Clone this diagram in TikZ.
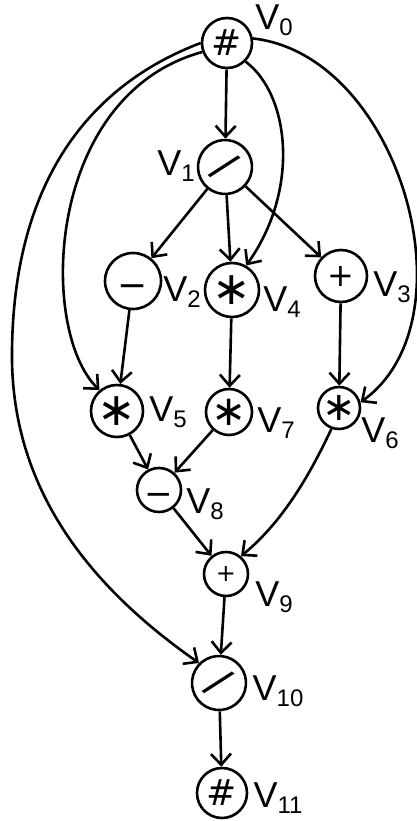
\documentclass[tikz,border=0pt]{standalone}
\usepackage{fontspec}
\setmainfont{Liberation Sans}
\newfontfamily\symf{DejaVu Sans}
\usetikzlibrary{arrows.meta}
\newcommand{\opsym}[2]{{\symf\fontsize{#1}{#1}\selectfont #2}}
\newcommand{\minsym}[1]{{\symf\fontsize{#1}{#1}\selectfont\smash{\raisebox{-0.45em}{−}}}}
\newcommand{\vlab}[1]{\fontsize{36}{36}\selectfont V\raisebox{-0.3ex}{\fontsize{24}{24}\selectfont #1}}
\tikzset{
  op/.style={draw, circle, line width=2.6pt, inner sep=0pt, minimum size=#1},
  lab/.style={inner sep=0pt},
  edge/.style={line width=2.6pt, -{Straight Barb[length=11pt,width=20pt,line width=2.6pt]}},
}
\begin{document}
\begin{tikzpicture}[x=1pt,y=-1pt]
\useasboundingbox (0,0) rectangle (417,821);
% nodes
\node[op=50pt] (v0) at (227,43) {\opsym{36}{\#}};
\node[op=54pt, rotate=-40] (v1) at (225,167) {\opsym{42}{/}};
\node[op=56pt] (v2) at (133,281) {\minsym{36}};
\node[op=54pt] (v4) at (232,290) {\opsym{46}{∗}};
\node[op=52pt] (v3) at (341,276) {\opsym{32}{+}};
\node[op=52pt] (v5) at (117,411) {\opsym{46}{∗}};
\node[op=46pt] (v7) at (229,412) {\opsym{42}{∗}};
\node[op=42pt] (v6) at (339,408) {\opsym{40}{∗}};
\node[op=44pt] (v8) at (159,490) {\minsym{34}};
\node[op=44pt] (v9) at (226,574) {\opsym{24}{+}};
\node[op=54pt, rotate=-40] (v10) at (219,683) {\opsym{42}{/}};
\node[op=50pt] (v11) at (222,793) {\opsym{36}{\#}};
% labels
\node[lab] (l0) at (274,20) {\vlab{0}};
\node[lab] (l1) at (176,166) {\vlab{1}};
\node[lab] (l2) at (182,292) {\vlab{2}};
\node[lab] (l4) at (282,302) {\vlab{4}};
\node[lab] (l3) at (392,287) {\vlab{3}};
\node[lab] (l5) at (168,412) {\vlab{5}};
\node[lab] (l7) at (276,423) {\vlab{7}};
\node[lab] (l6) at (380,433) {\vlab{6}};
\node[lab] (l8) at (205,504) {\vlab{8}};
\node[lab] (l9) at (274,597) {\vlab{9}};
\node[lab] (l10) at (278,691) {\vlab{10}};
\node[lab] (l11) at (278,798) {\vlab{11}};
% helper coordinate for the long left curve
\coordinate (c1) at (12,350);
% edges
\draw[edge] (v0) -- (v1);
\draw[edge] (v0.-45) .. controls (290,95) and (300,190) .. (v4.60);
\draw[edge] (v0.10) .. controls (400,55) and (475,320) .. (v6.15);
\draw[edge] (v0.200) .. controls (45,95) and (38,330) .. (v5.130);
\draw[line width=2.6pt] (v0.180) .. controls (90,85) and (14,180) .. (c1);
\draw[edge] (c1) .. controls (10,480) and (80,580) .. (v10.175);
\draw[edge] (v1) -- (v2);
\draw[edge] (v1) -- (v4);
\draw[edge] (v1) -- (v3);
\draw[edge] (v2) -- (v5);
\draw[edge] (v4) -- (v7);
\draw[edge] (v3) -- (v6);
\draw[edge] (v5) -- (v8);
\draw[edge] (v7) -- (v8);
\draw[edge] (v8) -- (v9);
\draw[edge] (v6.-110) .. controls (312,470) and (285,520) .. (v9.50);
\draw[edge] (v9) -- (v10);
\draw[edge] (v10) -- (v11);
\end{tikzpicture}
\end{document}
